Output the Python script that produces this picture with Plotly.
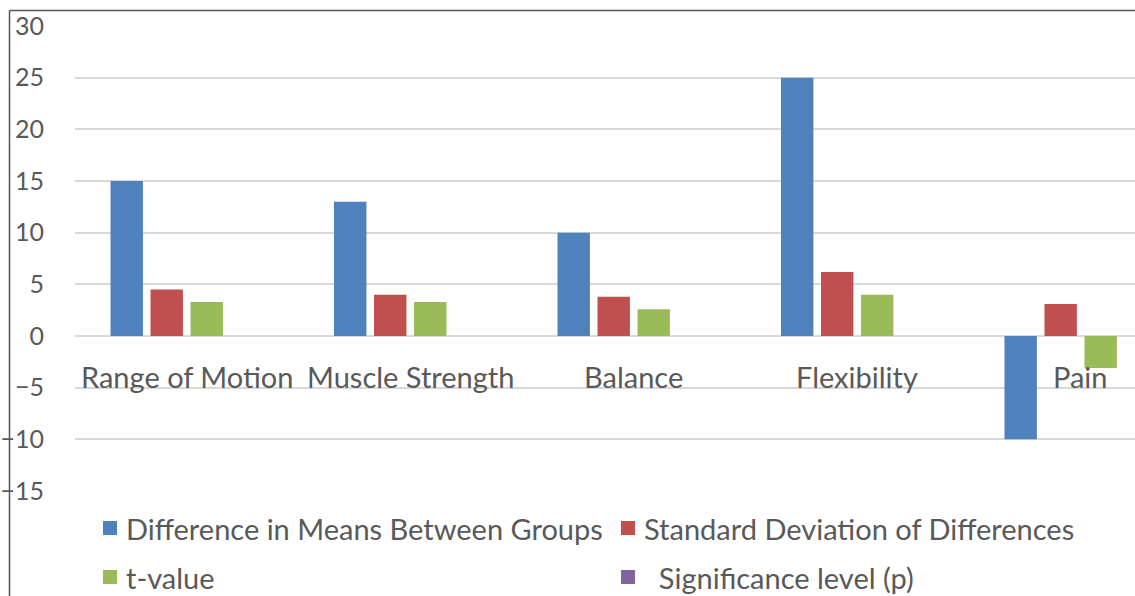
import plotly.graph_objects as go

# Outcome measures and statistics per measure
categories = ["Range of Motion", "Muscle Strength", "Balance", "Flexibility", "Pain"]
diff_means = [15, 13, 10, 25, -10]
sd_diff = [4.5, 4.0, 3.8, 6.2, 3.1]
t_values = [3.3, 3.3, 2.6, 4.0, -3.1]
p_values = [0.0, 0.0, 0.0, 0.0, 0.0]

series_names = [
    "Difference in Means Between Groups",
    "Standard Deviation of Differences",
    "t-value",
    "  Significance level (p)",
]
series_colors = ["#4f81bd", "#c0504d", "#9bbb59", "#8064a2"]
series_values = [diff_means, sd_diff, t_values, p_values]

y_ticks = [-15, -10, -5, 0, 5, 10, 15, 20, 25, 30]

FONT = "Lato"
TEXT = "#595959"
W, H = 1135, 596
L, R, T, B = 75, 0, 26, 105
PW, PH = W - L - R, H - T - B


def px_x(px):
    return (px - L) / PW


def px_y(py):
    return 1 - (py - T) / PH


fig = go.Figure()
for name, color, vals in zip(series_names, series_colors, series_values):
    fig.add_trace(go.Bar(x=categories, y=vals, name=name,
                         marker=dict(color=color, line=dict(width=0))))

# category labels sit just under the zero line
annotations = []
for cat in categories:
    annotations.append(dict(x=cat, y=-3.9, xref="x", yref="y", text=cat,
                            showarrow=False, xanchor="center", yanchor="middle",
                            font=dict(family=FONT, size=29, color=TEXT)))

# two-row legend drawn below the plot
legend_items = [
    (series_names[0], series_colors[0], 103, 528, 124),
    (series_names[1], series_colors[1], 621, 528, 642),
    (series_names[2], series_colors[2], 103, 577, 124),
    (series_names[3], series_colors[3], 621, 577, 642),
]
shapes = []
for name, color, mx, my, tx in legend_items:
    shapes.append(dict(type="rect", xref="paper", yref="paper",
                       x0=px_x(mx), x1=px_x(mx + 14), y0=px_y(my + 7), y1=px_y(my - 7),
                       fillcolor=color, line=dict(width=0)))
    annotations.append(dict(x=px_x(tx), y=px_y(my), xref="paper", yref="paper",
                            text=name.replace(" ", "&nbsp;") if name.startswith(" ") else name,
                            showarrow=False, xanchor="left", yanchor="middle",
                            font=dict(family=FONT, size=29, color=TEXT)))

# chart frame along the left and top edges
shapes.append(dict(type="line", xref="paper", yref="paper",
                   x0=px_x(9.5), x1=px_x(9.5), y0=px_y(600), y1=px_y(10.5),
                   line=dict(color="#555555", width=1.5)))
shapes.append(dict(type="line", xref="paper", yref="paper",
                   x0=px_x(9.5), x1=px_x(1140), y0=px_y(10.5), y1=px_y(10.5),
                   line=dict(color="#555555", width=1.5)))

fig.update_layout(
    width=W, height=H,
    margin=dict(l=L, r=R, t=T, b=B, pad=0),
    paper_bgcolor="white", plot_bgcolor="white",
    barmode="group", bargap=0.284, bargroupgap=0.19,
    showlegend=False,
    font=dict(family=FONT, color=TEXT),
    xaxis=dict(type="category", range=[-0.5, 4.243], showticklabels=False,
               showgrid=False, zeroline=False, showline=False, ticks=""),
    yaxis=dict(range=[-15, 30], tickvals=y_ticks, ticks="",
               ticklabelstandoff=30, showgrid=True, gridcolor="#d9d9d9", gridwidth=2,
               zeroline=True, zerolinecolor="#d9d9d9", zerolinewidth=2,
               showline=False, tickfont=dict(family=FONT, size=25, color=TEXT)),
    annotations=annotations,
    shapes=shapes,
)

fig.write_html("out.html")
